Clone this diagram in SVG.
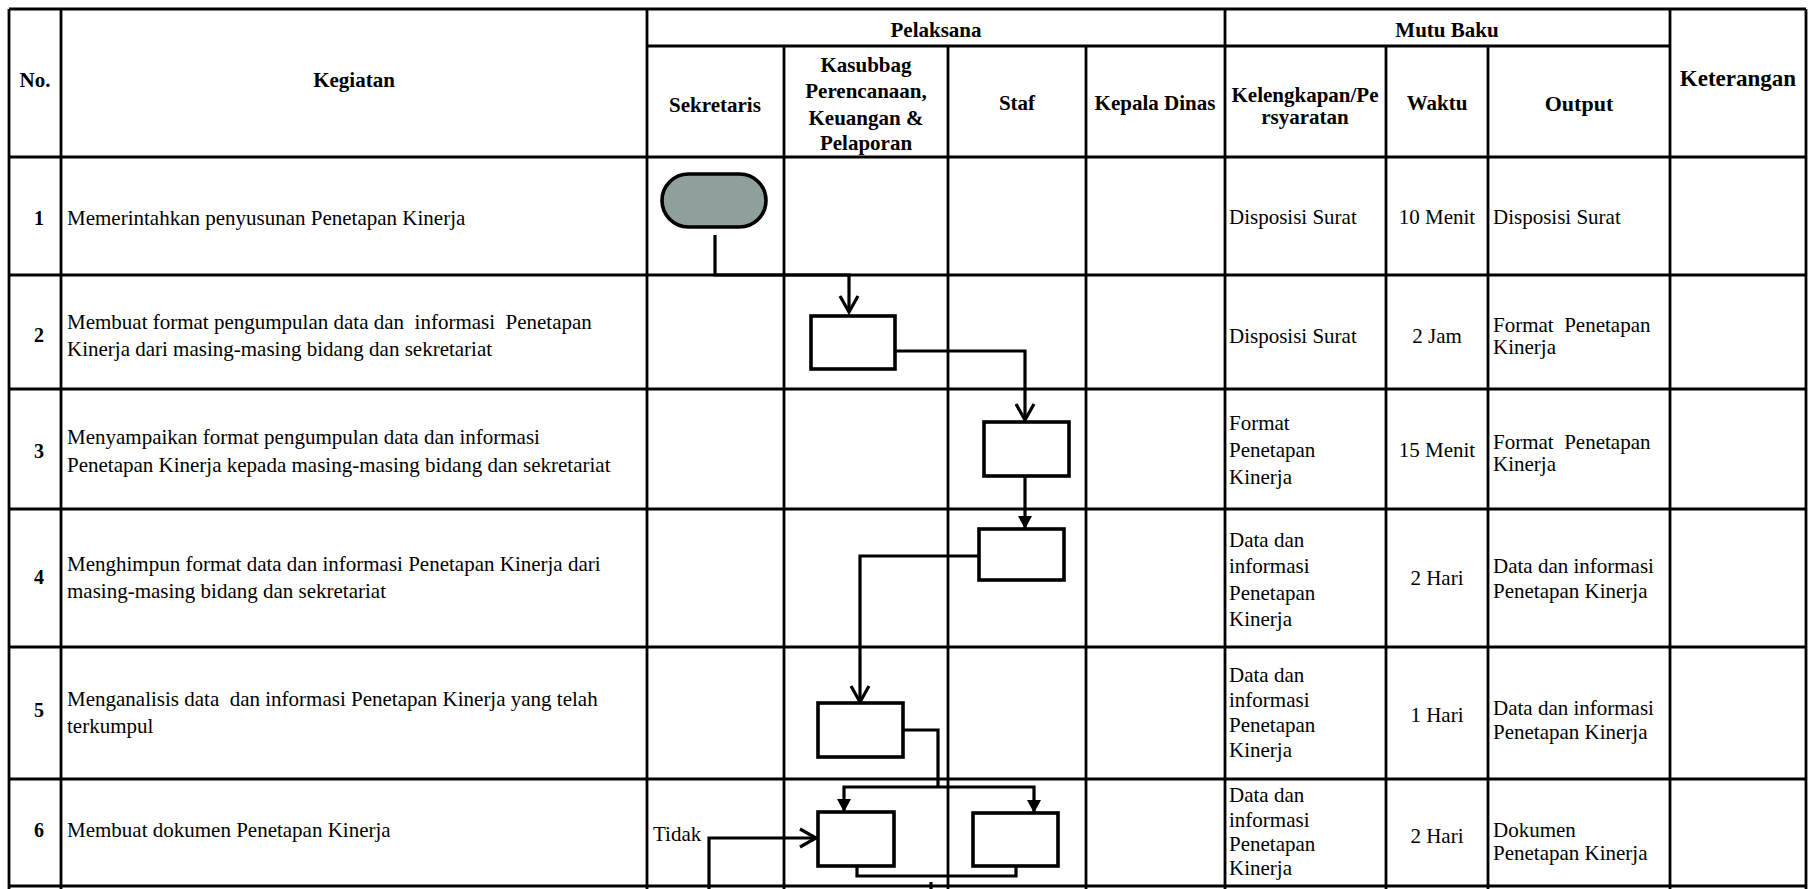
<svg xmlns="http://www.w3.org/2000/svg" width="1813" height="889" viewBox="0 0 1813 889">
<style>
text{font-family:"Liberation Serif","Times New Roman",serif;fill:#000}
.h{font-size:21px;font-weight:bold;text-anchor:middle}
.t{font-size:21px}
.c{text-anchor:middle}
.n{font-size:20px;font-weight:bold;text-anchor:middle}
.grid line{stroke:#000;stroke-width:2.8}
.flow{stroke:#000;stroke-width:3.2;fill:none}
.box{fill:#fff;stroke:#000;stroke-width:3.6}
.term{fill:#8f9f9d;stroke:#000;stroke-width:3.6}
</style>
<defs>
<marker id="open" markerUnits="userSpaceOnUse" viewBox="-2 -2 22 22" markerWidth="22" markerHeight="22" refX="16" refY="9" orient="auto">
<path d="M0,0 L16,9 L0,18" fill="none" stroke="#000" stroke-width="3.2"/>
</marker>
<marker id="solid" markerUnits="userSpaceOnUse" viewBox="0 0 14 14" markerWidth="14" markerHeight="14" refX="13" refY="7" orient="auto">
<path d="M0,0 L13,7 L0,14 Z" fill="#000"/>
</marker>
</defs>
<rect width="1813" height="889" fill="#fff"/>
<g id="table" class="grid">
<line x1="9" y1="9" x2="1806" y2="9"/>
<line x1="647" y1="46" x2="1670" y2="46"/>
<line x1="9" y1="157" x2="1806" y2="157"/>
<line x1="9" y1="275" x2="1806" y2="275"/>
<line x1="9" y1="389" x2="1806" y2="389"/>
<line x1="9" y1="509" x2="1806" y2="509"/>
<line x1="9" y1="647" x2="1806" y2="647"/>
<line x1="9" y1="779" x2="1806" y2="779"/>
<line x1="9" y1="886" x2="1806" y2="886"/>
<line x1="9" y1="9" x2="9" y2="889"/>
<line x1="61" y1="9" x2="61" y2="889"/>
<line x1="647" y1="9" x2="647" y2="889"/>
<line x1="784" y1="46" x2="784" y2="889"/>
<line x1="948" y1="46" x2="948" y2="889"/>
<line x1="1086" y1="46" x2="1086" y2="889"/>
<line x1="1225" y1="9" x2="1225" y2="889"/>
<line x1="1386" y1="46" x2="1386" y2="889"/>
<line x1="1488" y1="46" x2="1488" y2="889"/>
<line x1="1670" y1="9" x2="1670" y2="889"/>
<line x1="1806" y1="9" x2="1806" y2="889"/>
</g>
<g id="header">
<text class="h" x="35" y="87">No.</text>
<text class="h" x="354" y="87">Kegiatan</text>
<text class="h" x="936" y="37">Pelaksana</text>
<text class="h" x="1447" y="37">Mutu Baku</text>
<text class="h" x="1738" y="86" style="font-size:23px">Keterangan</text>
<text class="h" x="715" y="112">Sekretaris</text>
<text class="h" x="866"><tspan x="866" y="72">Kasubbag</tspan><tspan x="866" y="98">Perencanaan,</tspan><tspan x="866" y="125">Keuangan &amp;</tspan><tspan x="866" y="150">Pelaporan</tspan></text>
<text class="h" x="1017" y="110">Staf</text>
<text class="h" x="1155" y="110">Kepala Dinas</text>
<text class="h" x="1305"><tspan x="1305" y="102">Kelengkapan/Pe</tspan><tspan x="1305" y="124">rsyaratan</tspan></text>
<text class="h" x="1437" y="110">Waktu</text>
<text class="h" x="1579" y="111" style="font-size:22px">Output</text>
</g>
<g id="row1">
<text class="n" x="39" y="225">1</text>
<text class="t" x="67" y="225">Memerintahkan penyusunan Penetapan Kinerja</text>
<text class="t" x="1229" y="224">Disposisi Surat</text>
<text class="t c" x="1437" y="224">10 Menit</text>
<text class="t" x="1493" y="224">Disposisi Surat</text>
</g>
<g id="row2">
<text class="n" x="39" y="342">2</text>
<text class="t" x="67" y="329" xml:space="preserve">Membuat format pengumpulan data dan  informasi  Penetapan</text>
<text class="t" x="67" y="356">Kinerja dari masing-masing bidang dan sekretariat</text>
<text class="t" x="1229" y="343">Disposisi Surat</text>
<text class="t c" x="1437" y="343">2 Jam</text>
<text class="t" x="1493" y="332" xml:space="preserve">Format  Penetapan</text>
<text class="t" x="1493" y="354">Kinerja</text>
</g>
<g id="row3">
<text class="n" x="39" y="458">3</text>
<text class="t" x="67" y="444">Menyampaikan format pengumpulan data dan informasi</text>
<text class="t" x="67" y="472">Penetapan Kinerja kepada masing-masing bidang dan sekretariat</text>
<text class="t" x="1229" y="430">Format</text>
<text class="t" x="1229" y="457">Penetapan</text>
<text class="t" x="1229" y="484">Kinerja</text>
<text class="t c" x="1437" y="457">15 Menit</text>
<text class="t" x="1493" y="449" xml:space="preserve">Format  Penetapan</text>
<text class="t" x="1493" y="471">Kinerja</text>
</g>
<g id="row4">
<text class="n" x="39" y="584">4</text>
<text class="t" x="67" y="571">Menghimpun format data dan informasi Penetapan Kinerja dari</text>
<text class="t" x="67" y="598">masing-masing bidang dan sekretariat</text>
<text class="t" x="1229" y="547">Data dan</text>
<text class="t" x="1229" y="573">informasi</text>
<text class="t" x="1229" y="600">Penetapan</text>
<text class="t" x="1229" y="626">Kinerja</text>
<text class="t c" x="1437" y="585">2 Hari</text>
<text class="t" x="1493" y="573">Data dan informasi</text>
<text class="t" x="1493" y="598">Penetapan Kinerja</text>
</g>
<g id="row5">
<text class="n" x="39" y="717">5</text>
<text class="t" x="67" y="706" xml:space="preserve">Menganalisis data  dan informasi Penetapan Kinerja yang telah</text>
<text class="t" x="67" y="733">terkumpul</text>
<text class="t" x="1229" y="682">Data dan</text>
<text class="t" x="1229" y="707">informasi</text>
<text class="t" x="1229" y="732">Penetapan</text>
<text class="t" x="1229" y="757">Kinerja</text>
<text class="t c" x="1437" y="722">1 Hari</text>
<text class="t" x="1493" y="715">Data dan informasi</text>
<text class="t" x="1493" y="739">Penetapan Kinerja</text>
</g>
<g id="row6">
<text class="n" x="39" y="837">6</text>
<text class="t" x="67" y="837">Membuat dokumen Penetapan Kinerja</text>
<text class="t" x="653" y="841">Tidak</text>
<text class="t" x="1229" y="802">Data dan</text>
<text class="t" x="1229" y="827">informasi</text>
<text class="t" x="1229" y="851">Penetapan</text>
<text class="t" x="1229" y="875">Kinerja</text>
<text class="t c" x="1437" y="843">2 Hari</text>
<text class="t" x="1493" y="837">Dokumen</text>
<text class="t" x="1493" y="860">Penetapan Kinerja</text>
</g>
<g id="connectors">
<path class="flow" d="M715,235 V275 H849 V312" marker-end="url(#open)"/>
<path class="flow" d="M895,351 H1025 V420" marker-end="url(#open)"/>
<path class="flow" d="M1025,476 V529" marker-end="url(#solid)"/>
<path class="flow" d="M979,556 H860 V702" marker-end="url(#open)"/>
<path class="flow" d="M903,730 H938 V787"/>
<path class="flow" d="M938,787 H844 V812" marker-end="url(#solid)"/>
<path class="flow" d="M938,787 H1034 V813" marker-end="url(#solid)"/>
<path class="flow" d="M709,889 V838 H816" marker-end="url(#open)"/>
<path class="flow" d="M857,866 V876 H1016 V866"/>
<path class="flow" d="M931,882 V889"/>
</g>
<g id="n1"><rect class="term" x="662" y="174" width="104" height="53" rx="26.5" ry="26.5"/></g>
<g id="n2"><rect class="box" x="811" y="316" width="84" height="53"/></g>
<g id="n3"><rect class="box" x="984" y="422" width="85" height="54"/></g>
<g id="n4"><rect class="box" x="979" y="529" width="85" height="51"/></g>
<g id="n5"><rect class="box" x="818" y="703" width="85" height="54"/></g>
<g id="n6a"><rect class="box" x="818" y="812" width="76" height="54"/></g>
<g id="n6b"><rect class="box" x="973" y="813" width="85" height="53"/></g>
</svg>
